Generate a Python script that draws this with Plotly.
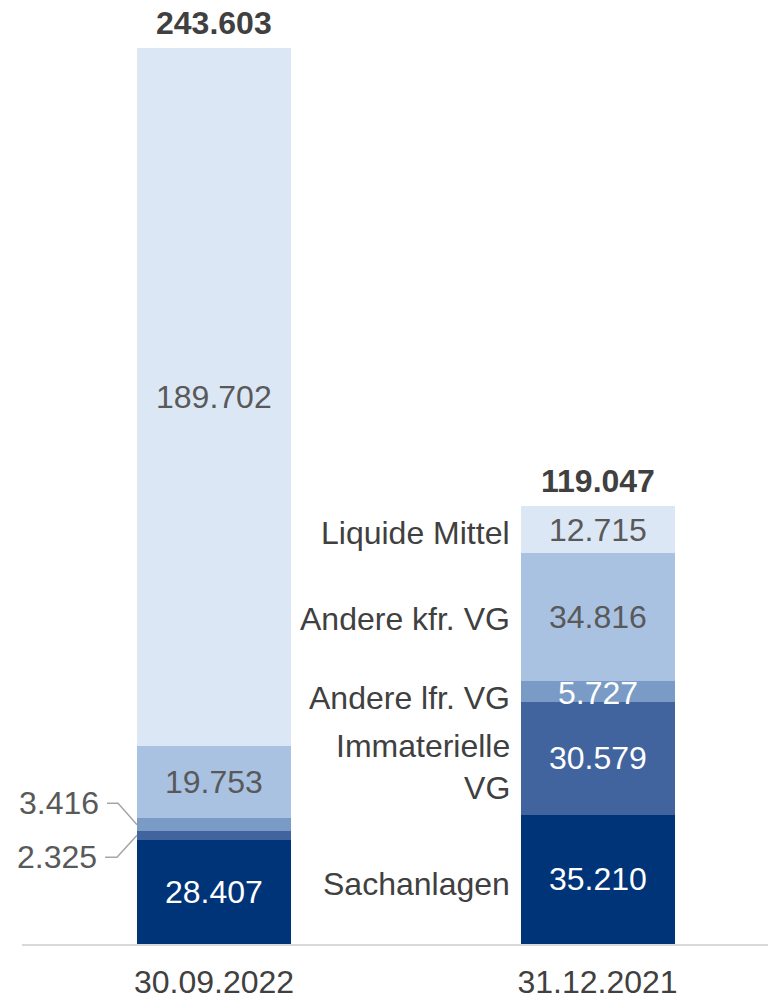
import plotly.graph_objects as go

categories = ["30.09.2022", "31.12.2021"]
series_names = ["Sachanlagen", "Immaterielle VG", "Andere lfr. VG", "Andere kfr. VG", "Liquide Mittel"]
series_labels = ["Sachanlagen", "Immaterielle<br>VG", "Andere lfr. VG", "Andere kfr. VG", "Liquide Mittel"]
sachanlagen = [28.407, 35.210]
immaterielle = [2.325, 30.579]
andere_lfr = [3.416, 5.727]
andere_kfr = [19.753, 34.816]
liquide = [189.702, 12.715]
totals = [243.603, 119.047]

series_values = [sachanlagen, immaterielle, andere_lfr, andere_kfr, liquide]
colors = ["#003478", "#41649f", "#7a9bc6", "#a9c2e2", "#dce7f5"]
text_colors = ["#ffffff", "#ffffff", "#ffffff", "#595959", "#595959"]

FONT = "Liberation Sans, Arial, sans-serif"
FS = 32
BW = 0.4016
xpos = [0, 1]

fig = go.Figure()
for name, vals, col in zip(series_names, series_values, colors):
    fig.add_trace(go.Bar(x=xpos, y=vals, name=name, width=BW,
                         marker=dict(color=col, line=dict(width=0)),
                         hoverinfo="skip", showlegend=False))

annotations = []
cum = [0.0, 0.0]
mids = [[0, 0] for _ in series_values]
for si, vals in enumerate(series_values):
    for ci in range(2):
        mids[si][ci] = cum[ci] + vals[ci] / 2
        cum[ci] += vals[ci]

for si, vals in enumerate(series_values):
    for ci in range(2):
        v = vals[ci]
        if ci == 0 and si in (1, 2):
            continue
        annotations.append(dict(x=xpos[ci], y=mids[si][ci], xref="x", yref="y",
                                text=f"{v:.3f}", showarrow=False,
                                yshift=-2 if (ci == 1 and si == 2) else 0,
                                font=dict(family=FONT, size=FS, color=text_colors[si])))

small = [(1, 23.6, -0.284, -0.253), (2, 38.3, -0.279, -0.2503)]
shapes = []
for si, ly, x0, x1 in small:
    annotations.append(dict(x=x0, y=ly, xref="x", yref="y", xanchor="right",
                            xshift=-6, text=f"{series_values[si][0]:.3f}", showarrow=False,
                            font=dict(family=FONT, size=FS, color="#595959")))
    shapes.append(dict(type="path", xref="x", yref="y",
                       path=f"M {x0},{ly} L {x1},{ly} L {-BW/2},{mids[si][0]}",
                       line=dict(color="#a6a6a6", width=1.5)))

for ci in range(2):
    annotations.append(dict(x=xpos[ci], y=totals[ci], xref="x", yref="y", yanchor="bottom",
                            yshift=5, text=f"<b>{totals[ci]:.3f}</b>", showarrow=False,
                            font=dict(family=FONT, size=FS, color="#404040")))

label_shift = [-5, -9, -7, -2, -3]
for si, lab in enumerate(series_labels):
    annotations.append(dict(x=1 - BW / 2, y=mids[si][1], xref="x", yref="y", xanchor="right",
                            align="right", xshift=-9, yshift=label_shift[si], text=lab,
                            showarrow=False,
                            font=dict(family=FONT, size=FS, color="#404040")))

fig.update_layout(
    barmode="stack",
    width=768, height=988,
    margin=dict(l=14, r=0, t=12, b=52),
    plot_bgcolor="white", paper_bgcolor="white",
    annotations=annotations, shapes=shapes,
    bargap=0,
    xaxis=dict(range=[-0.5007, 1.4654], tickvals=xpos, ticktext=categories,
               showline=True, linecolor="#d9d9d9", linewidth=2, showgrid=False,
               zeroline=False, ticks="outside", ticklen=9, tickcolor="rgba(0,0,0,0)",
               automargin=False,
               tickfont=dict(family=FONT, size=FS, color="#404040"), fixedrange=True),
    yaxis=dict(range=[0, 251.22], visible=False, fixedrange=True, automargin=False),
)

fig.write_html("out.html")
